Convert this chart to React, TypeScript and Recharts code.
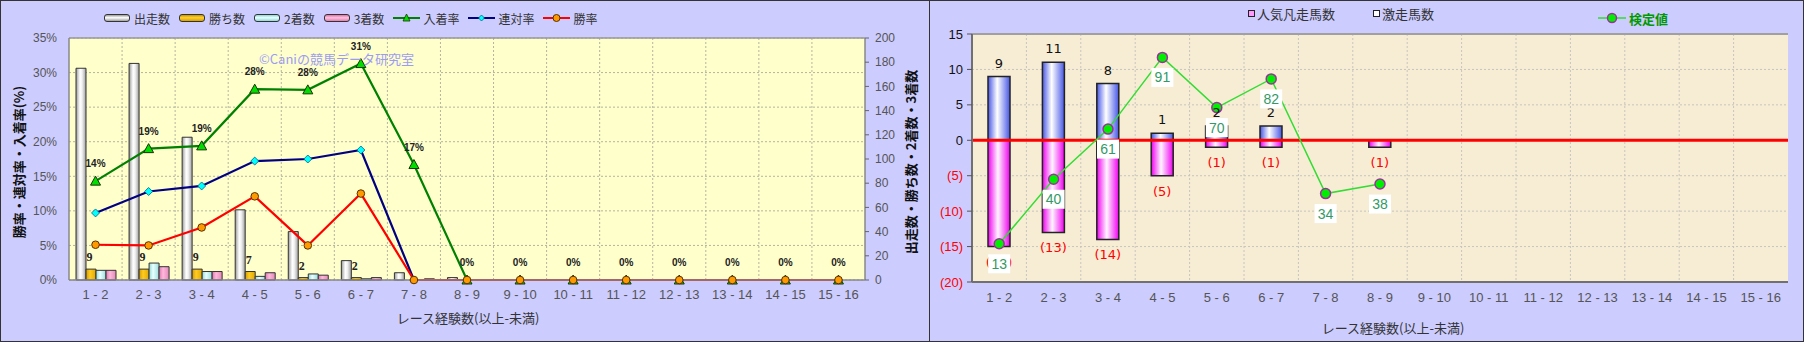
import React from "react";
import {
  ComposedChart,
  Bar,
  Line,
  XAxis,
  YAxis,
  CartesianGrid,
  ReferenceLine,
  LabelList,
} from "recharts";

const JP = "'Noto Sans CJK JP', 'Noto Sans', sans-serif";
const SANS = "'Liberation Sans', Arial, sans-serif";
const DEJAVU = "'DejaVu Sans', sans-serif";

const categories = [
  "1 - 2", "2 - 3", "3 - 4", "4 - 5", "5 - 6", "6 - 7", "7 - 8", "8 - 9",
  "9 - 10", "10 - 11", "11 - 12", "12 - 13", "13 - 14", "14 - 15", "15 - 16",
];

// left panel: counts (right axis) and rates in % (left axis)
const starts = [175, 179, 118, 58, 40, 16, 6, 2, 0, 0, 0, 0, 0, 0, 0];
const wins = [9, 9, 9, 7, 2, 2, 0, 0, 0, 0, 0, 0, 0, 0, 0];
const seconds = [8, 14, 7, 3, 5, 1, 0, 0, 0, 0, 0, 0, 0, 0, 0];
const thirds = [8, 11, 7, 6, 4, 2, 1, 0, 0, 0, 0, 0, 0, 0, 0];
const placeRate = [14.3, 19.0, 19.4, 27.6, 27.5, 31.3, 16.7, 0, 0, 0, 0, 0, 0, 0, 0];
const quinellaRate = [9.7, 12.8, 13.6, 17.2, 17.5, 18.8, 0, 0, 0, 0, 0, 0, 0, 0, 0];
const winRate = [5.1, 5.0, 7.6, 12.1, 5.0, 12.5, 0, 0, 0, 0, 0, 0, 0, 0, 0];
const pctTicks = [0, 5, 10, 15, 20, 25, 30, 35];
const cntTicks = [0, 20, 40, 60, 80, 100, 120, 140, 160, 180, 200];

// right panel
const hotCounts = [9, 11, 8, 1, 2, 2, 0, 0, 0, 0, 0, 0, 0, 0, 0];
const flopCounts = [15, 13, 14, 5, 1, 1, 0, 1, 0, 0, 0, 0, 0, 0, 0];
const testScores = [13, 40, 61, 91, 70, 82, 34, 38, null, null, null, null, null, null, null];
const valTicks = [-20, -15, -10, -5, 0, 5, 10, 15];

const xTitle = "レース経験数(以上-未満)";
const leftYTitle = "勝率・連対率・入着率(%)";
const rightYTitle = "出走数・勝ち数・2着数・3着数";
const watermark = "©Caniの競馬データ研究室";

const leftData = categories.map((cat, i) => ({
  cat,
  starts: starts[i],
  wins: wins[i],
  seconds: seconds[i],
  thirds: thirds[i],
  place: placeRate[i],
  quinella: quinellaRate[i],
  win: winRate[i],
}));

const rightData = categories.map((cat, i) => ({
  cat,
  hot: hotCounts[i],
  flop: -flopCounts[i],
  score: testScores[i],
}));

const boundaryLines = ({ offset }: any) => {
  const step = offset.width / categories.length;
  return categories.slice(1).map((_, i) => offset.left + step * (i + 1));
};

const box = (p: any) => {
  const vb = p.viewBox || {};
  const x = vb.x ?? p.x;
  const y = vb.y ?? p.y;
  const w = vb.width ?? p.width ?? 0;
  const h = vb.height ?? p.height ?? 0;
  return { x, y, w, h, top: Math.min(y, y + h), bottom: Math.max(y, y + h) };
};

const XTitle = (dx: number, dy: number) => (p: any) => {
  const vb = p.viewBox || {};
  return (
    <text x={vb.x + vb.width / 2 + dx} y={vb.y + vb.height + dy} textAnchor="middle"
      fontFamily={JP} fontSize={13} fill="#333">{xTitle}</text>
  );
};

const YTitle = (text: string, off: number) => (p: any) => {
  const vb = p.viewBox || {};
  const x = vb.x + off;
  const y = vb.y + vb.height / 2 + 3;
  return (
    <text x={x} y={y} transform={`rotate(-90 ${x} ${y})`} textAnchor="middle" dominantBaseline="central"
      fontFamily={JP} fontSize={13} fontWeight="bold" fill="#111">{text}</text>
  );
};

// markers
const TriangleDot = (p: any) => {
  if (p.cx == null || p.cy == null) return <g key={`t${p.index}`} />;
  const { cx, cy } = p;
  return <path key={`t${p.index}`} d={`M${cx},${cy - 5}L${cx + 5},${cy + 4}L${cx - 5},${cy + 4}Z`}
    fill="#00dd00" stroke="#1a3300" strokeWidth={1} />;
};
const DiamondDot = (p: any) => {
  if (p.cx == null || p.cy == null) return <g key={`d${p.index}`} />;
  const { cx, cy } = p;
  return <path key={`d${p.index}`} d={`M${cx},${cy - 4}L${cx + 4},${cy}L${cx},${cy + 4}L${cx - 4},${cy}Z`}
    fill="#00ffff" stroke="#006080" strokeWidth={0.8} />;
};
const OrangeDot = (p: any) => {
  if (p.cx == null || p.cy == null) return <g key={`o${p.index}`} />;
  return <circle key={`o${p.index}`} cx={p.cx} cy={p.cy} r={3.8} fill="#ff9900" stroke="#5a3000" strokeWidth={1} />;
};
const GreenDot = (p: any) => {
  if (p.cx == null || p.cy == null) return <g key={`g${p.index}`} />;
  return <circle key={`g${p.index}`} cx={p.cx} cy={p.cy} r={5} fill="#00ee00" stroke="#993399" strokeWidth={1.5} />;
};

// labels
const PctLabel = (p: any) => {
  if (p.value == null) return null;
  const b = box(p);
  return (
    <text x={b.x} y={b.y - 14} textAnchor="middle" fontFamily={SANS} fontSize={10} fontWeight="bold" fill="#222">
      {`${Math.round(p.value)}%`}
    </text>
  );
};
const WinCountLabel = (p: any) => {
  if (!p.value) return null;
  const b = box(p);
  return (
    <text x={b.x + b.w / 2 - 1.5} y={b.top - 8} textAnchor="middle" fontFamily="'Liberation Serif', serif"
      fontSize={12} fontWeight="bold" fill="#222">{p.value}</text>
  );
};
const HotLabel = (p: any) => {
  if (!p.value) return null;
  const b = box(p);
  return (
    <text x={b.x + b.w / 2} y={b.top - 9} textAnchor="middle" fontFamily={DEJAVU} fontSize={13} fill="#111">
      {p.value}
    </text>
  );
};
const FlopLabel = (p: any) => {
  if (!p.value) return null;
  const b = box(p);
  return (
    <text x={b.x + b.w / 2} y={b.bottom + 20} textAnchor="middle" fontFamily={DEJAVU} fontSize={13} fill="#ff0000">
      {`(${-p.value})`}
    </text>
  );
};
const ScoreLabel = (p: any) => {
  if (p.value == null) return null;
  const b = box(p);
  return (
    <g>
      <rect x={b.x - 11} y={b.y + 10.5} width={22} height={19} fill="#ffffff" />
      <text x={b.x} y={b.y + 20} textAnchor="middle" dominantBaseline="central" fontFamily={SANS}
        fontSize={14} fill="#339966">{p.value}</text>
    </g>
  );
};

const ValTick = (p: any) => {
  const v = p.payload?.value;
  const neg = v < 0;
  return (
    <text x={p.x} y={p.y} dy="0.35em" textAnchor="end" fontFamily={SANS} fontSize={13}
      fill={neg ? "#ff0000" : "#111"}>{neg ? `(${-v})` : v}</text>
  );
};

// legends
const leftLegend = [
  { name: "出走数", kind: "bar", bg: "linear-gradient(180deg,#9a9a9a,#ffffff 45%,#a0a0a0)" },
  { name: "勝ち数", kind: "bar", bg: "linear-gradient(180deg,#c89600,#ffd030 45%,#d8a000)" },
  { name: "2着数", kind: "bar", bg: "linear-gradient(180deg,#8cd8d8,#e8ffff 45%,#90d8d8)" },
  { name: "3着数", kind: "bar", bg: "linear-gradient(180deg,#e070a8,#ffc0e0 45%,#e080b0)" },
  { name: "入着率", kind: "tri", color: "#008000" },
  { name: "連対率", kind: "dia", color: "#000080" },
  { name: "勝率", kind: "dot", color: "#ff0000" },
];

const LegendIcon = ({ item }: any) => {
  if (item.kind === "bar") {
    return <span style={{ display: "inline-block", width: 24, height: 6, border: "1px solid #333",
      borderRadius: 3, background: item.bg, marginRight: 4 }} />;
  }
  return (
    <svg width={27} height={12} style={{ marginRight: 3 }}>
      <line x1={0} y1={6} x2={27} y2={6} stroke={item.color} strokeWidth={2} />
      {item.kind === "tri" && <path d="M13.5,2L17,9L10,9Z" fill="#00dd00" stroke="#1a3300" strokeWidth={0.8} />}
      {item.kind === "dia" && <path d="M13.5,3L16.5,6L13.5,9L10.5,6Z" fill="#00ffff" stroke="#006080" strokeWidth={0.8} />}
      {item.kind === "dot" && <circle cx={13.5} cy={6} r={3.5} fill="#ff9900" stroke="#5a3000" strokeWidth={1} />}
    </svg>
  );
};

export default function App() {
  return (
    <div style={{ position: "absolute", left: 0, top: 0, width: 1804, height: 342, background: "#ccccff",
      fontFamily: JP, overflow: "hidden" }}>
      <div style={{ position: "absolute", left: 0, top: 0 }}>
        <ComposedChart width={929} height={342} data={leftData} barGap={0} barSize={10}
          margin={{ top: 38, right: 0, bottom: 32, left: 0 }}>
          <defs>
            <linearGradient id="gStart" x1="0" y1="0" x2="1" y2="0">
              <stop offset="0" stopColor="#9a9a9a" />
              <stop offset="0.4" stopColor="#ffffff" />
              <stop offset="0.6" stopColor="#f2f2f2" />
              <stop offset="1" stopColor="#a0a0a0" />
            </linearGradient>
            <linearGradient id="gWin" x1="0" y1="0" x2="1" y2="0">
              <stop offset="0" stopColor="#d09a00" />
              <stop offset="0.4" stopColor="#ffcc22" />
              <stop offset="1" stopColor="#e0a800" />
            </linearGradient>
            <linearGradient id="gSecond" x1="0" y1="0" x2="1" y2="0">
              <stop offset="0" stopColor="#90d8d8" />
              <stop offset="0.4" stopColor="#eaffff" />
              <stop offset="1" stopColor="#98dcdc" />
            </linearGradient>
            <linearGradient id="gThird" x1="0" y1="0" x2="1" y2="0">
              <stop offset="0" stopColor="#e078b0" />
              <stop offset="0.4" stopColor="#ffb8dc" />
              <stop offset="1" stopColor="#e488b8" />
            </linearGradient>
          </defs>
          <CartesianGrid yAxisId="pct" fill="#ffffcc" fillOpacity={1} stroke="#b4b4a0" strokeDasharray="2 2"
            verticalCoordinatesGenerator={boundaryLines} />
          <XAxis dataKey="cat" height={30} interval={0} tickLine={false} tickSize={6} tickMargin={4}
            axisLine={{ stroke: "#888", strokeWidth: 1.5 }}
            tick={{ fill: "#555", fontSize: 13, fontFamily: SANS }} label={XTitle(1, 13)} />
          <YAxis yAxisId="pct" width={69} domain={[0, 35]} ticks={pctTicks} interval={0}
            tickFormatter={(v: number) => `${v}%`} tickLine={false} tickSize={8} tickMargin={4}
            axisLine={{ stroke: "#888", strokeWidth: 1.5 }}
            tick={{ fill: "#555", fontSize: 12, fontFamily: SANS }} label={YTitle(leftYTitle, 18)} />
          <YAxis yAxisId="cnt" orientation="right" width={64} domain={[0, 200]} ticks={cntTicks} interval={0}
            tickSize={4} tickMargin={6} tickLine={{ stroke: "#666" }}
            axisLine={{ stroke: "#888", strokeWidth: 1.5 }}
            tick={{ fill: "#555", fontSize: 12, fontFamily: SANS }} label={YTitle(rightYTitle, 45)} />
          <ReferenceLine yAxisId="pct" y={35} stroke="#999" strokeWidth={1.5} />
          <Bar yAxisId="cnt" dataKey="starts" fill="url(#gStart)" stroke="#333" strokeWidth={1} isAnimationActive={false} />
          <Bar yAxisId="cnt" dataKey="wins" fill="url(#gWin)" stroke="#333" strokeWidth={1} isAnimationActive={false}>
            <LabelList dataKey="wins" content={WinCountLabel} />
          </Bar>
          <Bar yAxisId="cnt" dataKey="seconds" fill="url(#gSecond)" stroke="#333" strokeWidth={1} isAnimationActive={false} />
          <Bar yAxisId="cnt" dataKey="thirds" fill="url(#gThird)" stroke="#333" strokeWidth={1} isAnimationActive={false} />
          <Line yAxisId="pct" type="linear" dataKey="place" stroke="#008000" strokeWidth={2.2}
            dot={TriangleDot} activeDot={false} isAnimationActive={false}>
            <LabelList dataKey="place" content={PctLabel} />
          </Line>
          <Line yAxisId="pct" type="linear" dataKey="quinella" stroke="#000080" strokeWidth={2.2}
            dot={DiamondDot} activeDot={false} isAnimationActive={false} />
          <Line yAxisId="pct" type="linear" dataKey="win" stroke="#ff0000" strokeWidth={2.2}
            dot={OrangeDot} activeDot={false} isAnimationActive={false} />
        </ComposedChart>
      </div>

      <div style={{ position: "absolute", left: 929, top: 0 }}>
        <ComposedChart width={875} height={342} data={rightData} stackOffset="sign" barSize={22}
          margin={{ top: 34, right: 16, bottom: 30, left: 0 }}>
          <defs>
            <linearGradient id="gBlue" x1="0" y1="0" x2="1" y2="0">
              <stop offset="0" stopColor="#4656e6" />
              <stop offset="0.42" stopColor="#ffffff" />
              <stop offset="1" stopColor="#4656e6" />
            </linearGradient>
            <linearGradient id="gPink" x1="0" y1="0" x2="1" y2="0">
              <stop offset="0" stopColor="#f000f0" />
              <stop offset="0.45" stopColor="#fff4ff" />
              <stop offset="1" stopColor="#f000f0" />
            </linearGradient>
          </defs>
          <CartesianGrid yAxisId="val" fill="#f7edd5" fillOpacity={1} stroke="#c8c4bc" strokeDasharray="2 2"
            verticalCoordinatesGenerator={boundaryLines} />
          <XAxis dataKey="cat" height={30} interval={0} tickLine={false} tickSize={6} tickMargin={5}
            axisLine={{ stroke: "#707070", strokeWidth: 2 }}
            tick={{ fill: "#555", fontSize: 13, fontFamily: SANS }} label={XTitle(13, 21)} />
          <YAxis yAxisId="val" width={43} domain={[-20, 15]} ticks={valTicks} interval={0}
            tickSize={5} tickMargin={4} tickLine={{ stroke: "#555" }}
            axisLine={{ stroke: "#707070", strokeWidth: 2 }} tick={<ValTick />} />
          <YAxis yAxisId="score" orientation="right" width={0} domain={[-3, 100.8]} tick={false} tickLine={false}
            axisLine={{ stroke: "#a0a0a0", strokeWidth: 2 }} />
          <ReferenceLine yAxisId="val" y={15} stroke="#a0a0a0" strokeWidth={2} />
          <Bar yAxisId="val" dataKey="hot" stackId="s" fill="url(#gBlue)" stroke="#222" strokeWidth={1.5}
            isAnimationActive={false}>
            <LabelList dataKey="hot" content={HotLabel} />
          </Bar>
          <Bar yAxisId="val" dataKey="flop" stackId="s" fill="url(#gPink)" stroke="#222" strokeWidth={1.5}
            isAnimationActive={false}>
            <LabelList dataKey="flop" content={FlopLabel} />
          </Bar>
          <ReferenceLine yAxisId="val" y={0} stroke="#ff0000" strokeWidth={3} />
          <Line yAxisId="score" type="linear" dataKey="score" stroke="#33dd33" strokeWidth={1.5}
            dot={GreenDot} activeDot={false} isAnimationActive={false}>
            <LabelList dataKey="score" content={ScoreLabel} />
          </Line>
        </ComposedChart>
      </div>

      {/* left legend */}
      <div style={{ position: "absolute", left: 104, top: 10, height: 16, display: "flex", alignItems: "center",
        gap: 9, fontSize: 12, color: "#333", whiteSpace: "nowrap" }}>
        {leftLegend.map((it) => (
          <span key={it.name} style={{ display: "inline-flex", alignItems: "center" }}>
            <LegendIcon item={it} />
            {it.name}
          </span>
        ))}
      </div>
      <div style={{ position: "absolute", left: 259, top: 52, fontSize: 13, lineHeight: "13px", color: "#9c9cf4",
        whiteSpace: "nowrap" }}>
        {watermark}
      </div>

      {/* right legend */}
      <div style={{ position: "absolute", left: 1248, top: 4, height: 18, display: "flex", alignItems: "center",
        gap: 38, fontSize: 13, color: "#333", whiteSpace: "nowrap" }}>
        <span style={{ display: "inline-flex", alignItems: "center" }}>
          <span style={{ display: "inline-block", width: 5, height: 5, border: "1.5px solid #222",
            background: "#ff99ff", marginRight: 2 }} />
          人気凡走馬数
        </span>
        <span style={{ display: "inline-flex", alignItems: "center" }}>
          <span style={{ display: "inline-block", width: 5, height: 5, border: "1.5px solid #222",
            background: "#ffffff", marginRight: 2 }} />
          激走馬数
        </span>
      </div>
      <div style={{ position: "absolute", left: 1598, top: 9, height: 18, display: "flex", alignItems: "center",
        fontSize: 13, fontWeight: "bold", color: "#009900", whiteSpace: "nowrap" }}>
        <svg width={28} height={14} style={{ marginRight: 3 }}>
          <line x1={0} y1={7} x2={28} y2={7} stroke="#33dd33" strokeWidth={1.5} />
          <circle cx={14} cy={7} r={4.5} fill="#00ee00" stroke="#993399" strokeWidth={1.5} />
        </svg>
        検定値
      </div>

      {/* frame */}
      <div style={{ position: "absolute", left: 0, top: 0, width: 1804, height: 342, boxSizing: "border-box",
        border: "1px solid #333", pointerEvents: "none" }} />
      <div style={{ position: "absolute", left: 929, top: 0, width: 1, height: 342, background: "#333" }} />
    </div>
  );
}
